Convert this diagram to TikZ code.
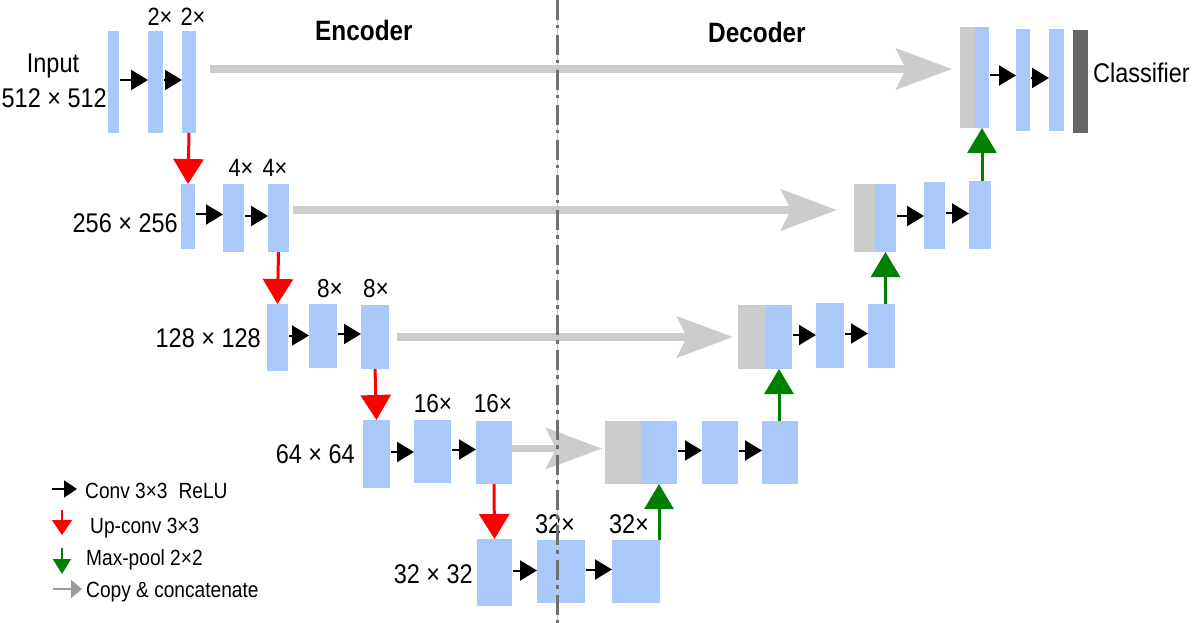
\documentclass[tikz,border=0pt]{standalone}
\usepackage{fontspec}
\setmainfont{Liberation Sans}[FakeStretch=0.87]
\usetikzlibrary{arrows.meta}
\definecolor{blueblk}{HTML}{A9CAF9}
\definecolor{catgray}{HTML}{CCCCCC}
\definecolor{clsgray}{HTML}{666666}
\definecolor{dgreen}{HTML}{008000}
\definecolor{sepgray}{HTML}{707070}
\definecolor{leggray}{HTML}{9A9A9A}
\tikzset{
  layer/.style={fill=blueblk, draw=none, inner sep=0pt, outer sep=0pt},
  catl/.style={fill=catgray, draw=none, inner sep=0pt, outer sep=0pt},
  clsl/.style={fill=clsgray, draw=none, inner sep=0pt, outer sep=0pt},
  conv/.style={line width=2pt, shorten <=1pt, -{Triangle[length=17pt,width=20pt]}},
  upc/.style={red, line width=3pt, -{Triangle[length=25pt,width=30pt]}},
  pool/.style={dgreen, line width=3pt, -{Triangle[length=25pt,width=29pt]}},
  copyc/.style={catgray, line width=7.5pt, -{Stealth[length=56pt,width=41pt,inset=10pt]}},
  big/.style={font=\fontsize{27}{30}\selectfont, inner sep=0pt},
  head/.style={font=\fontsize{28}{30}\selectfont\bfseries, inner sep=0pt},
  multa/.style={font=\fontsize{25}{28}\selectfont, inner sep=0pt, anchor=base},
  multb/.style={font=\fontsize{26}{28}\selectfont, inner sep=0pt, anchor=base},
  multc/.style={font=\fontsize{27}{28}\selectfont, inner sep=0pt, anchor=base},
  legtxt/.style={font=\fontsize{22}{24}\selectfont, inner sep=0pt, anchor=base west},
  lconv/.style={line width=2pt, -{Triangle[length=13pt,width=17pt]}},
  lup/.style={red, line width=2pt, -{Triangle[length=15pt,width=20pt]}},
  lpool/.style={dgreen, line width=2pt, -{Triangle[length=15pt,width=18pt]}},
  lcopy/.style={leggray, line width=2pt, -{Triangle[length=11pt,width=18pt]}},
}
\newcommand\blk[6]{\node[#6, minimum width={(#4-#2)*1pt}, minimum height={(#5-#3)*1pt}] (#1) at ({(#2+#4)/2},{(#3+#5)/2}) {};}
\begin{document}
\begin{tikzpicture}[x=1pt,y=-1pt]
\useasboundingbox (0,0) rectangle (1195,623);
% encoder
\blk{e11}{108}{31}{119}{133}{layer}
\blk{e12}{148}{31}{163}{133}{layer}
\blk{e13}{182}{31}{196}{133}{layer}
\blk{e21}{181}{184}{195}{249}{layer}
\blk{e22}{223}{184}{244}{252}{layer}
\blk{e23}{268}{184}{289}{252}{layer}
\blk{e31}{267}{304}{288}{371}{layer}
\blk{e32}{309}{304}{337}{368}{layer}
\blk{e33}{361}{305}{389}{369}{layer}
\blk{e41}{363}{420}{390}{488}{layer}
\blk{e42}{414}{420}{451}{483}{layer}
\blk{e43}{476}{421}{512}{484}{layer}
\blk{e51}{477}{539}{512}{606}{layer}
\blk{e52}{537}{540}{585}{603}{layer}
\blk{e53}{612}{540}{660}{603}{layer}
% decoder
\blk{c4g}{605}{421}{641}{484}{catl}
\blk{c4b}{641}{421}{677}{484}{layer}
\blk{d42}{702}{421}{738}{484}{layer}
\blk{d43}{762}{421}{798}{484}{layer}
\blk{c3g}{738}{305}{766}{369}{catl}
\blk{c3b}{766}{305}{792}{369}{layer}
\blk{d32}{816}{303}{844}{368}{layer}
\blk{d33}{868}{304}{895}{368}{layer}
\blk{c2g}{854}{184}{875}{252}{catl}
\blk{c2b}{875}{184}{896}{252}{layer}
\blk{d22}{924}{182}{945}{249}{layer}
\blk{d23}{969}{181}{991}{249}{layer}
\blk{c1g}{960}{27}{975}{128}{catl}
\blk{c1b}{975}{27}{989}{128}{layer}
\blk{d12}{1016}{29}{1030}{131}{layer}
\blk{d13}{1049}{29}{1064}{131}{layer}
\blk{cls}{1073}{30}{1088}{133}{clsl}
% copy & concatenate
\draw[copyc, shorten <=14pt, shorten >=8pt] ([yshift=13pt]e13.east) -- ([yshift=13pt]e13.east -| c1g.west);
\draw[copyc, shorten <=4pt, shorten >=17pt] ([yshift=8pt]e23.east) -- ([yshift=8pt]e23.east -| c2g.west);
\draw[copyc, shorten <=8pt, shorten >=5pt] (e33.east) -- (e33.east -| c3g.west);
\draw[copyc, shorten >=3pt] ([yshift=4pt]e43.east) -- ([yshift=4pt]e43.east -| c4g.west);
% conv arrows
\foreach \a/\b in {e11/e12,e12/e13,e21/e22,e22/e23,e31/e32,e32/e33,e41/e42,e42/e43,e51/e52,e52/e53,c4b/d42,d42/d43,c3b/d32,d32/d33,c2b/d22,d22/d23,c1b/d12,d12/d13}
  \draw[conv] ([yshift=2pt]\a.east) -- ([yshift=2pt]\a.east -| \b.west);
% up-conv
\draw[upc] (e13.south) -- (e21.north);
\draw[upc] (e23.south) -- (e31.north);
\draw[upc] (e33.south) -- (e41.north);
\draw[upc] (e43.south) -- (e51.north);
% max-pool
\draw[pool] (c4b.south |- e53.north) -- (c4b.south);
\draw[pool] (c3b.south |- d43.north) -- (c3b.south);
\draw[pool] (c2b.south |- d33.north) -- (c2b.south);
\draw[pool] (c1b.south |- d23.north) -- (c1b.south);
% labels
\node[big, anchor=base] (linput) at (53,73) {Input};
\node[big, anchor=base east] (l512) at (107,108) {512 × 512};
\node[big, anchor=base east] (l256) at (178,233) {256 × 256};
\node[big, anchor=base east] (l128) at (261,347) {128 × 128};
\node[big, anchor=base east] (l64) at (355,463) {64 × 64};
\node[big, anchor=base east] (l32) at (473,583) {32 × 32};
\node[big, anchor=base west] (lcls) at (1093,83) {Classifier};
\node[head, anchor=base west] (lenc) at (315,41) {Encoder};
\node[head, anchor=base west] (ldec) at (708,43) {Decoder};
\node[multa] (m1a) at (160,26) {2×};
\node[multa] (m1b) at (193,26) {2×};
\node[multa] (m2a) at (241,177) {4×};
\node[multa] (m2b) at (275,177) {4×};
\node[multb] (m3a) at (330,297) {8×};
\node[multb] (m3b) at (376,297) {8×};
\node[multb] (m4a) at (433,412) {16×};
\node[multb] (m4b) at (493,412) {16×};
\node[multc] (m5a) at (555,533) {32×};
\node[multc] (m5b) at (629,533) {32×};
% legend
\coordinate (lg1a) at (52,489); \coordinate (lg1b) at (77,489);
\coordinate (lg2a) at (62,510); \coordinate (lg2b) at (62,535);
\coordinate (lg3a) at (62,548); \coordinate (lg3b) at (62,574);
\coordinate (lg4a) at (53,589); \coordinate (lg4b) at (82,589);
\draw[lconv] (lg1a) -- (lg1b);
\draw[lup] (lg2a) -- (lg2b);
\draw[lpool] (lg3a) -- (lg3b);
\draw[lcopy] (lg4a) -- (lg4b);
\node[legtxt] (t1) at (85,498) {Conv 3×3\enspace ReLU};
\node[legtxt] (t2) at (90,533) {Up-conv 3×3};
\node[legtxt] (t3) at (86,565) {Max-pool 2×2};
\node[legtxt] (t4) at (86,597) {Copy \& concatenate};
% separator
\coordinate (septop) at (557,0);
\coordinate (sepbot) at (557,623);
\draw[catgray, line width=1pt] (septop) -- (sepbot);
\draw[sepgray, line width=3pt, dash pattern=on 20pt off 5pt on 3.5pt off 6.5pt] (septop) -- (sepbot);
\end{tikzpicture}
\end{document}
